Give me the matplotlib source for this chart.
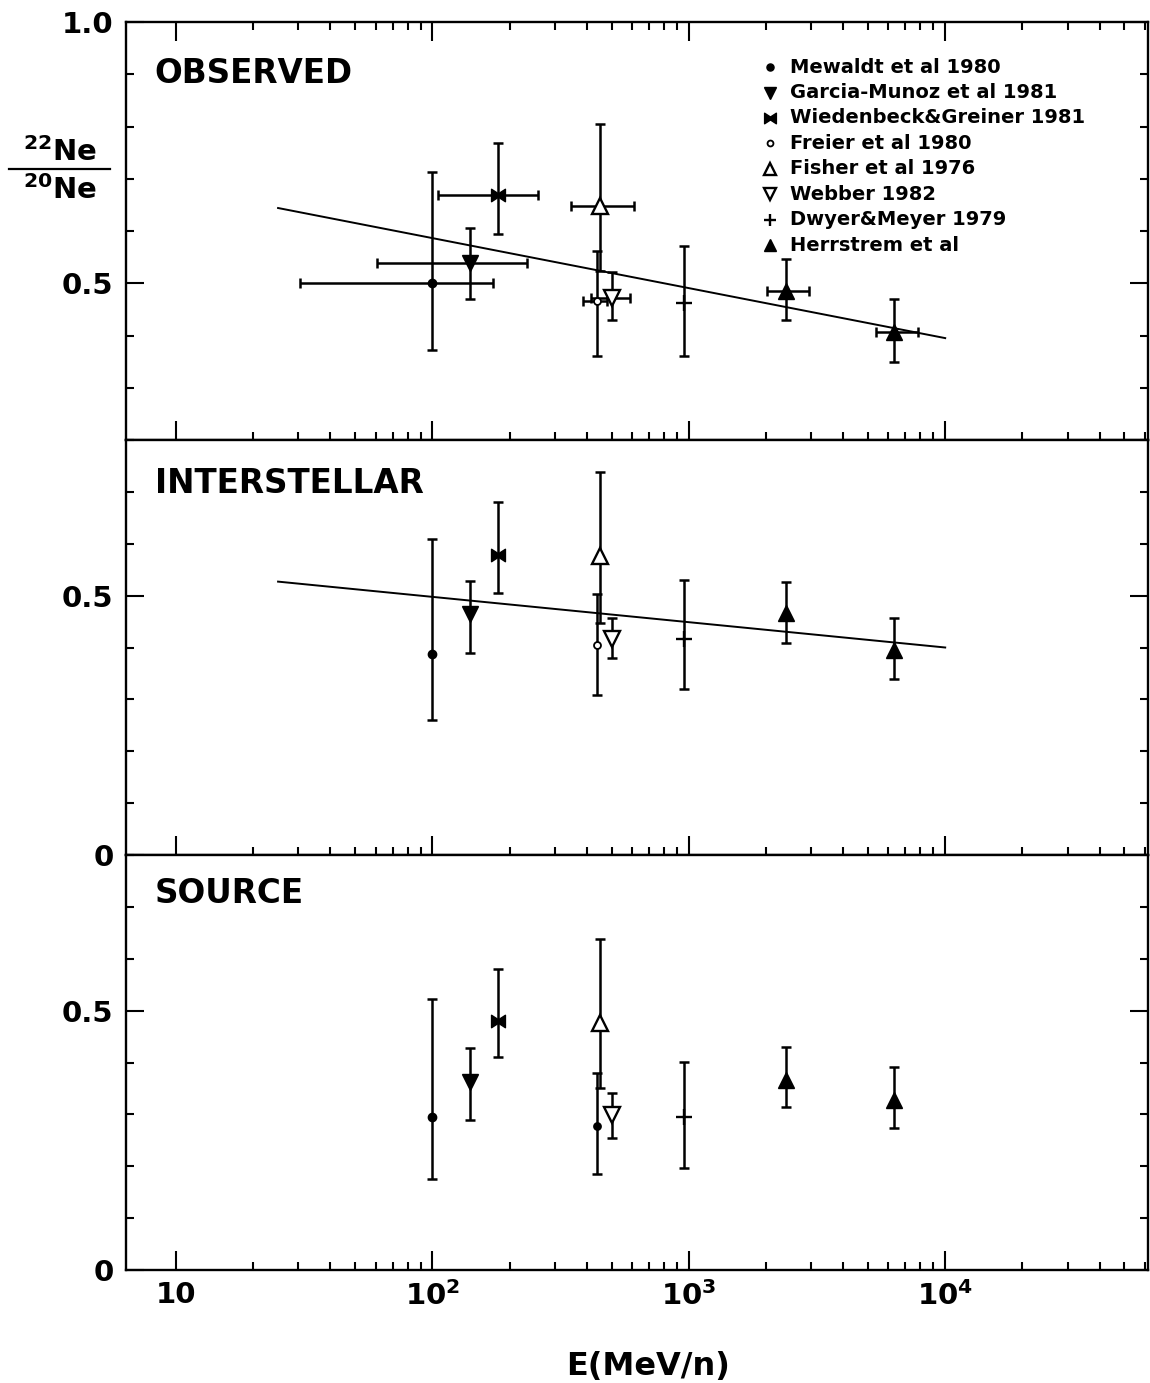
import numpy as np
import matplotlib
matplotlib.use("Agg")
import matplotlib.pyplot as plt
from matplotlib.path import Path
from matplotlib.ticker import FixedLocator, NullFormatter, FixedFormatter

plt.rcParams['font.family'] = ['DejaVu Sans']
plt.rcParams['font.weight'] = 'bold'
plt.rcParams['mathtext.default'] = 'bf'

# ---------------- data ----------------
dataset_labels = ['Mewaldt et al 1980', 'Garcia-Munoz et al 1981',
                  'Wiedenbeck&Greiner 1981', 'Freier et al 1980',
                  'Fisher et al 1976', 'Webber 1982', 'Dwyer&Meyer 1979',
                  'Herrstrem et al']

# one entry per plotted point; point_set gives the dataset index
point_energy = [100, 140, 180, 438, 450, 500, 960, 2400, 6300]
point_set = [0, 1, 2, 3, 4, 5, 6, 7, 7]

# OBSERVED
obs_val = [0.500, 0.538, 0.669, 0.466, 0.648, 0.471, 0.462, 0.485, 0.406]
obs_lo = [0.372, 0.469, 0.594, 0.360, 0.524, 0.430, 0.360, 0.429, 0.349]
obs_hi = [0.713, 0.605, 0.768, 0.562, 0.805, 0.521, 0.571, 0.547, 0.469]
obs_elo = [30.5, 61, 105, 386, 347, 416, np.nan, 2010, 5370]
obs_ehi = [172, 233, 258, 480, 611, 590, np.nan, 2950, 7820]

# INTERSTELLAR
ism_val = [0.387, 0.464, 0.578, 0.405, 0.576, 0.417, 0.416, 0.467, 0.396]
ism_lo = [0.261, 0.389, 0.506, 0.308, 0.448, 0.379, 0.320, 0.408, 0.340]
ism_hi = [0.609, 0.528, 0.681, 0.504, 0.739, 0.456, 0.530, 0.527, 0.456]

# SOURCE
src_val = [0.294, 0.363, 0.480, 0.278, 0.476, 0.299, 0.294, 0.366, 0.328]
src_lo = [0.175, 0.290, 0.411, 0.185, 0.350, 0.254, 0.196, 0.315, 0.273]
src_hi = [0.522, 0.427, 0.581, 0.379, 0.639, 0.342, 0.401, 0.430, 0.392]

# fitted lines
fit_energy = [25, 1e4]
fit_obs = [0.644, 0.395]
fit_ism = [0.527, 0.400]

xtick_labels = ['10', '10$^{2}$', '10$^{3}$', '10$^{4}$']

# ---------------- styles ----------------
bowtie = Path([(-1, -0.9), (-1, 0.9), (0, 0.25), (1, 0.9), (1, -0.9),
               (0, -0.25), (-1, -0.9)],
              [Path.MOVETO, Path.LINETO, Path.LINETO, Path.LINETO,
               Path.LINETO, Path.LINETO, Path.CLOSEPOLY])
marker_style = [
    dict(marker='o', ms=6, mfc='black', mec='black'),
    dict(marker='v', ms=11, mfc='black', mec='black'),
    dict(marker=bowtie, ms=10, mfc='black', mec='black'),
    dict(marker='o', ms=5, mfc='white', mec='black', mew=1.3),
    dict(marker='^', ms=11, mfc='white', mec='black', mew=1.7),
    dict(marker='v', ms=11, mfc='white', mec='black', mew=1.7),
    dict(marker='+', ms=11, mfc='black', mec='black', mew=1.7),
    dict(marker='^', ms=11, mfc='black', mec='black'),
]

W, H = 1150, 1383
fig = plt.figure(figsize=(W / 100, H / 100), dpi=100)
left = 126 / W
width = (1148 - 126) / W

panels = [
    dict(top=22, bot=440, ylim=(0.2, 1.0), val=obs_val, lo=obs_lo, hi=obs_hi,
         title='OBSERVED', ty=0.876, fit=fit_obs, xerr=True,
         major=[0.5, 1.0], labels=['0.5', '1.0']),
    dict(top=440, bot=855, ylim=(0.0, 0.8), val=ism_val, lo=ism_lo, hi=ism_hi,
         title='INTERSTELLAR', ty=0.896, fit=fit_ism, xerr=False,
         major=[0.0, 0.5], labels=['0', '0.5']),
    dict(top=855, bot=1270, ylim=(0.0, 0.8), val=src_val, lo=src_lo, hi=src_hi,
         title='SOURCE', ty=0.908, fit=None, xerr=False,
         major=[0.0, 0.5], labels=['0', '0.5']),
]

xlo, xhi = 6.38, 61800
axes = []
for pi, p in enumerate(panels):
    ax = fig.add_axes([left, 1 - p['bot'] / H, width, (p['bot'] - p['top']) / H])
    axes.append(ax)
    ax.set_xscale('log')
    ax.set_xlim(xlo, xhi)
    ax.set_ylim(*p['ylim'])
    for s in ax.spines.values():
        s.set_linewidth(1.7)

    # fit line
    if p['fit'] is not None:
        ax.plot(fit_energy, p['fit'], color='black', lw=1.4, zorder=2)

    # data points
    for i, e in enumerate(point_energy):
        k = point_set[i]
        y = p['val'][i]
        yerr = [[y - p['lo'][i]], [p['hi'][i] - y]]
        xerr = None
        if p['xerr'] and not np.isnan(obs_elo[i]):
            xerr = [[e - obs_elo[i]], [obs_ehi[i] - e]]
        ax.errorbar([e], [y], yerr=yerr, xerr=xerr, fmt='none',
                    ecolor='black', elinewidth=1.8, capsize=3.5,
                    capthick=1.8, zorder=3)
        st = dict(marker_style[k])
        if pi == 2 and k == 3:
            st['mfc'] = 'black'
        ax.plot([e], [y], linestyle='none', color='black', zorder=4, **st)

    # ticks
    ax.xaxis.set_major_locator(FixedLocator([10, 100, 1000, 10000]))
    minors = [m * 10 ** d for d in range(1, 5) for m in range(2, 10)]
    ax.xaxis.set_minor_locator(FixedLocator(minors))
    ax.xaxis.set_minor_formatter(NullFormatter())
    if pi == 2:
        ax.xaxis.set_major_formatter(FixedFormatter(xtick_labels))
    else:
        ax.xaxis.set_major_formatter(NullFormatter())
    ax.yaxis.set_major_locator(FixedLocator(p['major']))
    ax.yaxis.set_major_formatter(FixedFormatter(p['labels']))
    ymin, ymax = p['ylim']
    ax.yaxis.set_minor_locator(FixedLocator(
        [round(v, 1) for v in np.arange(ymin, ymax + 0.01, 0.1)]))
    ax.tick_params(axis='both', which='both', direction='in', width=1.5,
                   right=True, top=(pi == 0))
    ax.tick_params(axis='x', which='major', length=14, pad=8, labelsize=21)
    ax.tick_params(axis='x', which='minor', length=6)
    ax.tick_params(axis='y', which='major', length=13, pad=9, labelsize=21)
    ax.tick_params(axis='y', which='minor', length=6)

    ax.text(0.028, p['ty'], p['title'], transform=ax.transAxes,
            fontsize=23.5, fontweight='heavy', va='center', ha='left')

# legend (manual, top panel)
ax0 = axes[0]
leg_x_m, leg_x_t = 0.630, 0.650
leg_y0, leg_dy = 0.892, 0.0608
for k, lab in enumerate(dataset_labels):
    yy = leg_y0 - k * leg_dy
    st = dict(marker_style[k])
    st['ms'] = st['ms'] * 0.85
    ax0.plot([leg_x_m], [yy], transform=ax0.transAxes, linestyle='none',
             color='black', clip_on=False, **st)
    ax0.text(leg_x_t, yy, lab, transform=ax0.transAxes, fontsize=14,
             fontweight='bold', va='center', ha='left')

# y-axis label as a fraction
fig.text(60 / W, 1 - 152 / H, '$^{22}$Ne', fontsize=21, fontweight='bold',
         ha='center', va='center')
fig.text(60 / W, 1 - 190 / H, '$^{20}$Ne', fontsize=21, fontweight='bold',
         ha='center', va='center')
fig.add_artist(plt.Line2D([9 / W, 110 / W], [1 - 169 / H, 1 - 169 / H],
                          color='black', lw=1.6, transform=fig.transFigure))

fig.text(648 / W, 1 - 1366 / H, 'E(MeV/n)', fontsize=23, fontweight='bold',
         ha='center', va='center')

fig.savefig('out.png', dpi=100)
